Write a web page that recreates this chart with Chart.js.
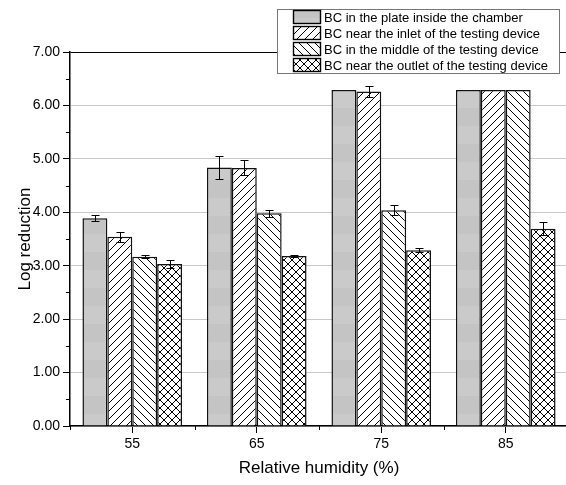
<!DOCTYPE html>
<html>
<head>
<meta charset="utf-8">
<script src="https://cdn.jsdelivr.net/npm/chart.js@4"></script>
<style>
  html, body { margin: 0; padding: 0; background: #fff; overflow: hidden; }
  #chart { display: block; }
</style>
</head>
<body>
<canvas id="chart" width="572" height="485"></canvas>
<script>
// values
const humidity = ['55', '65', '75', '85'];

const plateVals = [3.89, 4.84, 6.29, 6.29];
const plateErr = [0.06, 0.21, 0, 0];

const inletVals = [3.54, 4.83, 6.26, 6.29];
const inletErr = [0.10, 0.14, 0.10, 0];

const middleVals = [3.17, 3.98, 4.04, 6.29];
const middleErr = [0.03, 0.07, 0.09, 0];

const outletVals = [3.03, 3.18, 3.29, 3.69];
const outletErr = [0.07, 0.02, 0.035, 0.12];

const seriesLabels = [
    'BC in the plate inside the chamber',
    'BC near the inlet of the testing device',
    'BC in the middle of the testing device',
    'BC near the outlet of the testing device'
];

const FONT = "'Liberation Sans', Arial, sans-serif";

// fill patterns
function makePattern(kind) {
    const c = document.createElement('canvas');
    const g = c.getContext('2d');
    if (kind === 'gray') {
        c.width = 4; c.height = 36;
        g.fillStyle = '#c4c4c4';
        g.fillRect(0, 0, 4, 18);
        g.fillStyle = '#cacaca';
        g.fillRect(0, 18, 4, 18);
        return g.createPattern(c, 'repeat');
    }
    const s = 8;
    c.width = s; c.height = s;
    g.fillStyle = '#fff';
    g.fillRect(0, 0, s, s);
    g.strokeStyle = '#000';
    g.lineWidth = 1;
    g.beginPath();
    if (kind === 'fwd' || kind === 'cross') {
        g.moveTo(-1, s + 1); g.lineTo(s + 1, -1);
        g.moveTo(-1, 1); g.lineTo(1, -1);
        g.moveTo(s - 1, s + 1); g.lineTo(s + 1, s - 1);
    }
    if (kind === 'back' || kind === 'cross') {
        g.moveTo(-1, -1); g.lineTo(s + 1, s + 1);
        g.moveTo(s - 1, -1); g.lineTo(s + 1, 1);
        g.moveTo(-1, s - 1); g.lineTo(1, s + 1);
    }
    g.stroke();
    return g.createPattern(c, 'repeat');
}

const fills = [makePattern('gray'), makePattern('fwd'), makePattern('back'), makePattern('cross')];
const errors = [plateErr, inletErr, middleErr, outletErr];

// error bars from the data
const errorBars = {
    id: 'errorBars',
    afterDatasetsDraw(chart) {
        const ctx = chart.ctx;
        const y = chart.scales.y;
        ctx.save();
        ctx.strokeStyle = '#000';
        ctx.lineWidth = 1;
        chart.data.datasets.forEach((ds, i) => {
            const meta = chart.getDatasetMeta(i);
            meta.data.forEach((bar, j) => {
                const e = errors[i][j];
                if (!e) return;
                const v = ds.data[j];
                const top = Math.round(y.getPixelForValue(v + e)) + 0.5;
                const bot = Math.round(y.getPixelForValue(v - e)) + 0.5;
                const x = Math.round(bar.x) + 0.5;
                ctx.beginPath();
                ctx.moveTo(x, top); ctx.lineTo(x, bot);
                ctx.moveTo(x - 4, top); ctx.lineTo(x + 4, top);
                ctx.moveTo(x - 4, bot); ctx.lineTo(x + 4, bot);
                ctx.stroke();
            });
        });
        ctx.restore();
    }
};

// minor ticks and the boxed legend
const extras = {
    id: 'extras',
    afterDraw(chart) {
        const ctx = chart.ctx;
        const xs = chart.scales.x, ys = chart.scales.y;
        const area = chart.chartArea;
        ctx.save();
        ctx.strokeStyle = '#000';
        ctx.lineWidth = 1;
        ctx.beginPath();
        for (let v = 0.5; v < 7; v += 1) {
            const py = Math.round(ys.getPixelForValue(v)) + 0.5;
            ctx.moveTo(area.left - 4, py); ctx.lineTo(area.left, py);
        }
        for (let k = 0; k <= humidity.length; k++) {
            const px = Math.round(xs.getPixelForValue(k - 0.5)) + 0.5;
            ctx.moveTo(px, area.bottom); ctx.lineTo(px, area.bottom + 4);
        }
        ctx.stroke();

        // legend box
        const bx = 277, by = 9, bw = 282, bh = 64;
        ctx.fillStyle = '#fff';
        ctx.fillRect(bx, by, bw, bh);
        ctx.strokeStyle = '#777';
        ctx.strokeRect(bx + 0.5, by + 0.5, bw, bh);
        ctx.font = '13px ' + FONT;
        ctx.textBaseline = 'middle';
        chart.data.datasets.forEach((ds, i) => {
            const cy = 17 + i * 16;
            ctx.fillStyle = ds.backgroundColor;
            ctx.fillRect(293, cy - 7, 28, 14);
            ctx.strokeStyle = '#000';
            ctx.lineWidth = 1.4;
            ctx.strokeRect(293.5, cy - 6.5, 27, 13);
            ctx.fillStyle = '#000';
            ctx.fillText(ds.label, 324, cy + 1);
        });
        ctx.restore();
    }
};

const datasets = [plateVals, inletVals, middleVals, outletVals].map((vals, i) => ({
    label: seriesLabels[i],
    data: vals,
    backgroundColor: fills[i],
    borderColor: '#111',
    borderWidth: 1.5,
    barPercentage: 1,
    categoryPercentage: 0.8
}));

new Chart(document.getElementById('chart'), {
    type: 'bar',
    data: { labels: humidity, datasets: datasets },
    options: {
        responsive: false,
        animation: false,
        layout: { padding: { top: 52, right: 4, left: 0, bottom: 0 } },
        plugins: {
            legend: { display: false },
            tooltip: { enabled: false }
        },
        scales: {
            x: {
                afterFit: (s) => { s.height = 59; },
                grid: {
                    display: true,
                    drawOnChartArea: false,
                    offset: false,
                    tickLength: 7,
                    tickColor: '#000'
                },
                border: { color: '#000', width: 1.5 },
                ticks: { color: '#000', padding: 3, font: { family: FONT, size: 14 } },
                title: {
                    display: true,
                    text: 'Relative humidity (%)',
                    color: '#000',
                    font: { family: FONT, size: 17 },
                    padding: { top: 0, bottom: 6 }
                }
            },
            y: {
                min: 0,
                max: 7,
                afterFit: (s) => { s.width = 70; },
                grid: {
                    color: (c) => (c.tick && c.tick.value === 7) ? '#000' : '#c8c8c8',
                    lineWidth: 1,
                    tickLength: 7,
                    tickColor: '#000'
                },
                border: { color: '#000', width: 1.5 },
                ticks: {
                    stepSize: 1,
                    color: '#000',
                    padding: 3,
                    font: { family: FONT, size: 14 },
                    callback: (v) => v.toFixed(2)
                },
                title: {
                    display: true,
                    text: 'Log reduction',
                    color: '#000',
                    font: { family: FONT, size: 17 },
                    padding: { top: 15, bottom: 0 }
                }
            }
        }
    },
    plugins: [errorBars, extras]
});
</script>
</body>
</html>
